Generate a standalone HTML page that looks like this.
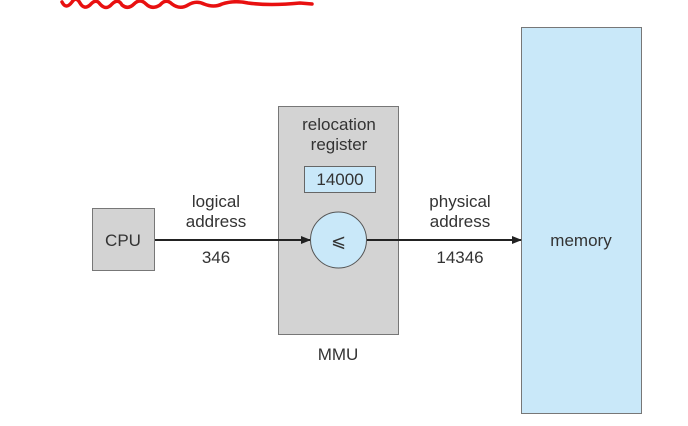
<!DOCTYPE html>
<html><head><meta charset="utf-8"><style>
html,body{margin:0;padding:0;background:#fff;}
svg{display:block;}
text{font-family:"Liberation Sans",sans-serif;fill:#333;}
</style></head><body>
<svg width="688" height="426" viewBox="0 0 688 426" xmlns="http://www.w3.org/2000/svg">
<defs><marker id="a" markerWidth="10" markerHeight="8" refX="9" refY="4" orient="auto" markerUnits="userSpaceOnUse"><path d="M0,0 L10,4 L0,8 Z" fill="#222"/></marker></defs>
<path d="M62,2 Q66,10 72,2 Q76,-4 80,3 Q84,10 90,5 Q96,-2 100,4 Q106,11 112,4 Q118,-2 122,5 Q128,10 134,4 Q140,-2 146,4 Q152,10 160,5 Q166,-2 172,4 Q180,10 188,5 Q196,0 204,4 Q214,8 222,4 Q234,0 248,3 Q270,6 300,3 L312,4" fill="none" stroke="#e81010" stroke-width="3.5" stroke-linecap="round"/>
<rect x="521.5" y="27.5" width="120" height="386" fill="#c9e8f9" stroke="#777" stroke-width="1"/>
<text x="581" y="246" font-size="17" text-anchor="middle">memory</text>
<rect x="278.5" y="106.5" width="120" height="228" fill="#d3d3d3" stroke="#777" stroke-width="1"/>
<text x="339" y="130" font-size="17" text-anchor="middle">relocation</text>
<text x="339" y="150" font-size="17" text-anchor="middle">register</text>
<rect x="304.5" y="166.5" width="71" height="26" fill="#c9e8f9" stroke="#666" stroke-width="1"/>
<text x="340" y="185" font-size="17" text-anchor="middle">14000</text>
<text x="338" y="360" font-size="17" text-anchor="middle">MMU</text>
<rect x="92.5" y="208.5" width="62" height="62" fill="#d3d3d3" stroke="#777" stroke-width="1"/>
<text x="123" y="246" font-size="17" text-anchor="middle">CPU</text>
<line x1="155" y1="240" x2="310" y2="240" stroke="#222" stroke-width="2" marker-end="url(#a)"/>
<line x1="367" y1="240" x2="521" y2="240" stroke="#222" stroke-width="2" marker-end="url(#a)"/>
<circle cx="338.5" cy="240" r="28" fill="#c9e8f9" stroke="#555" stroke-width="1"/>
<text x="338.5" y="247" font-size="18" text-anchor="middle">⩽</text>
<text x="216" y="207" font-size="17" text-anchor="middle">logical</text>
<text x="216" y="227" font-size="17" text-anchor="middle">address</text>
<text x="216" y="263" font-size="17" text-anchor="middle">346</text>
<text x="460" y="207" font-size="17" text-anchor="middle">physical</text>
<text x="460" y="227" font-size="17" text-anchor="middle">address</text>
<text x="460" y="263" font-size="17" text-anchor="middle">14346</text>
</svg>
</body></html>
